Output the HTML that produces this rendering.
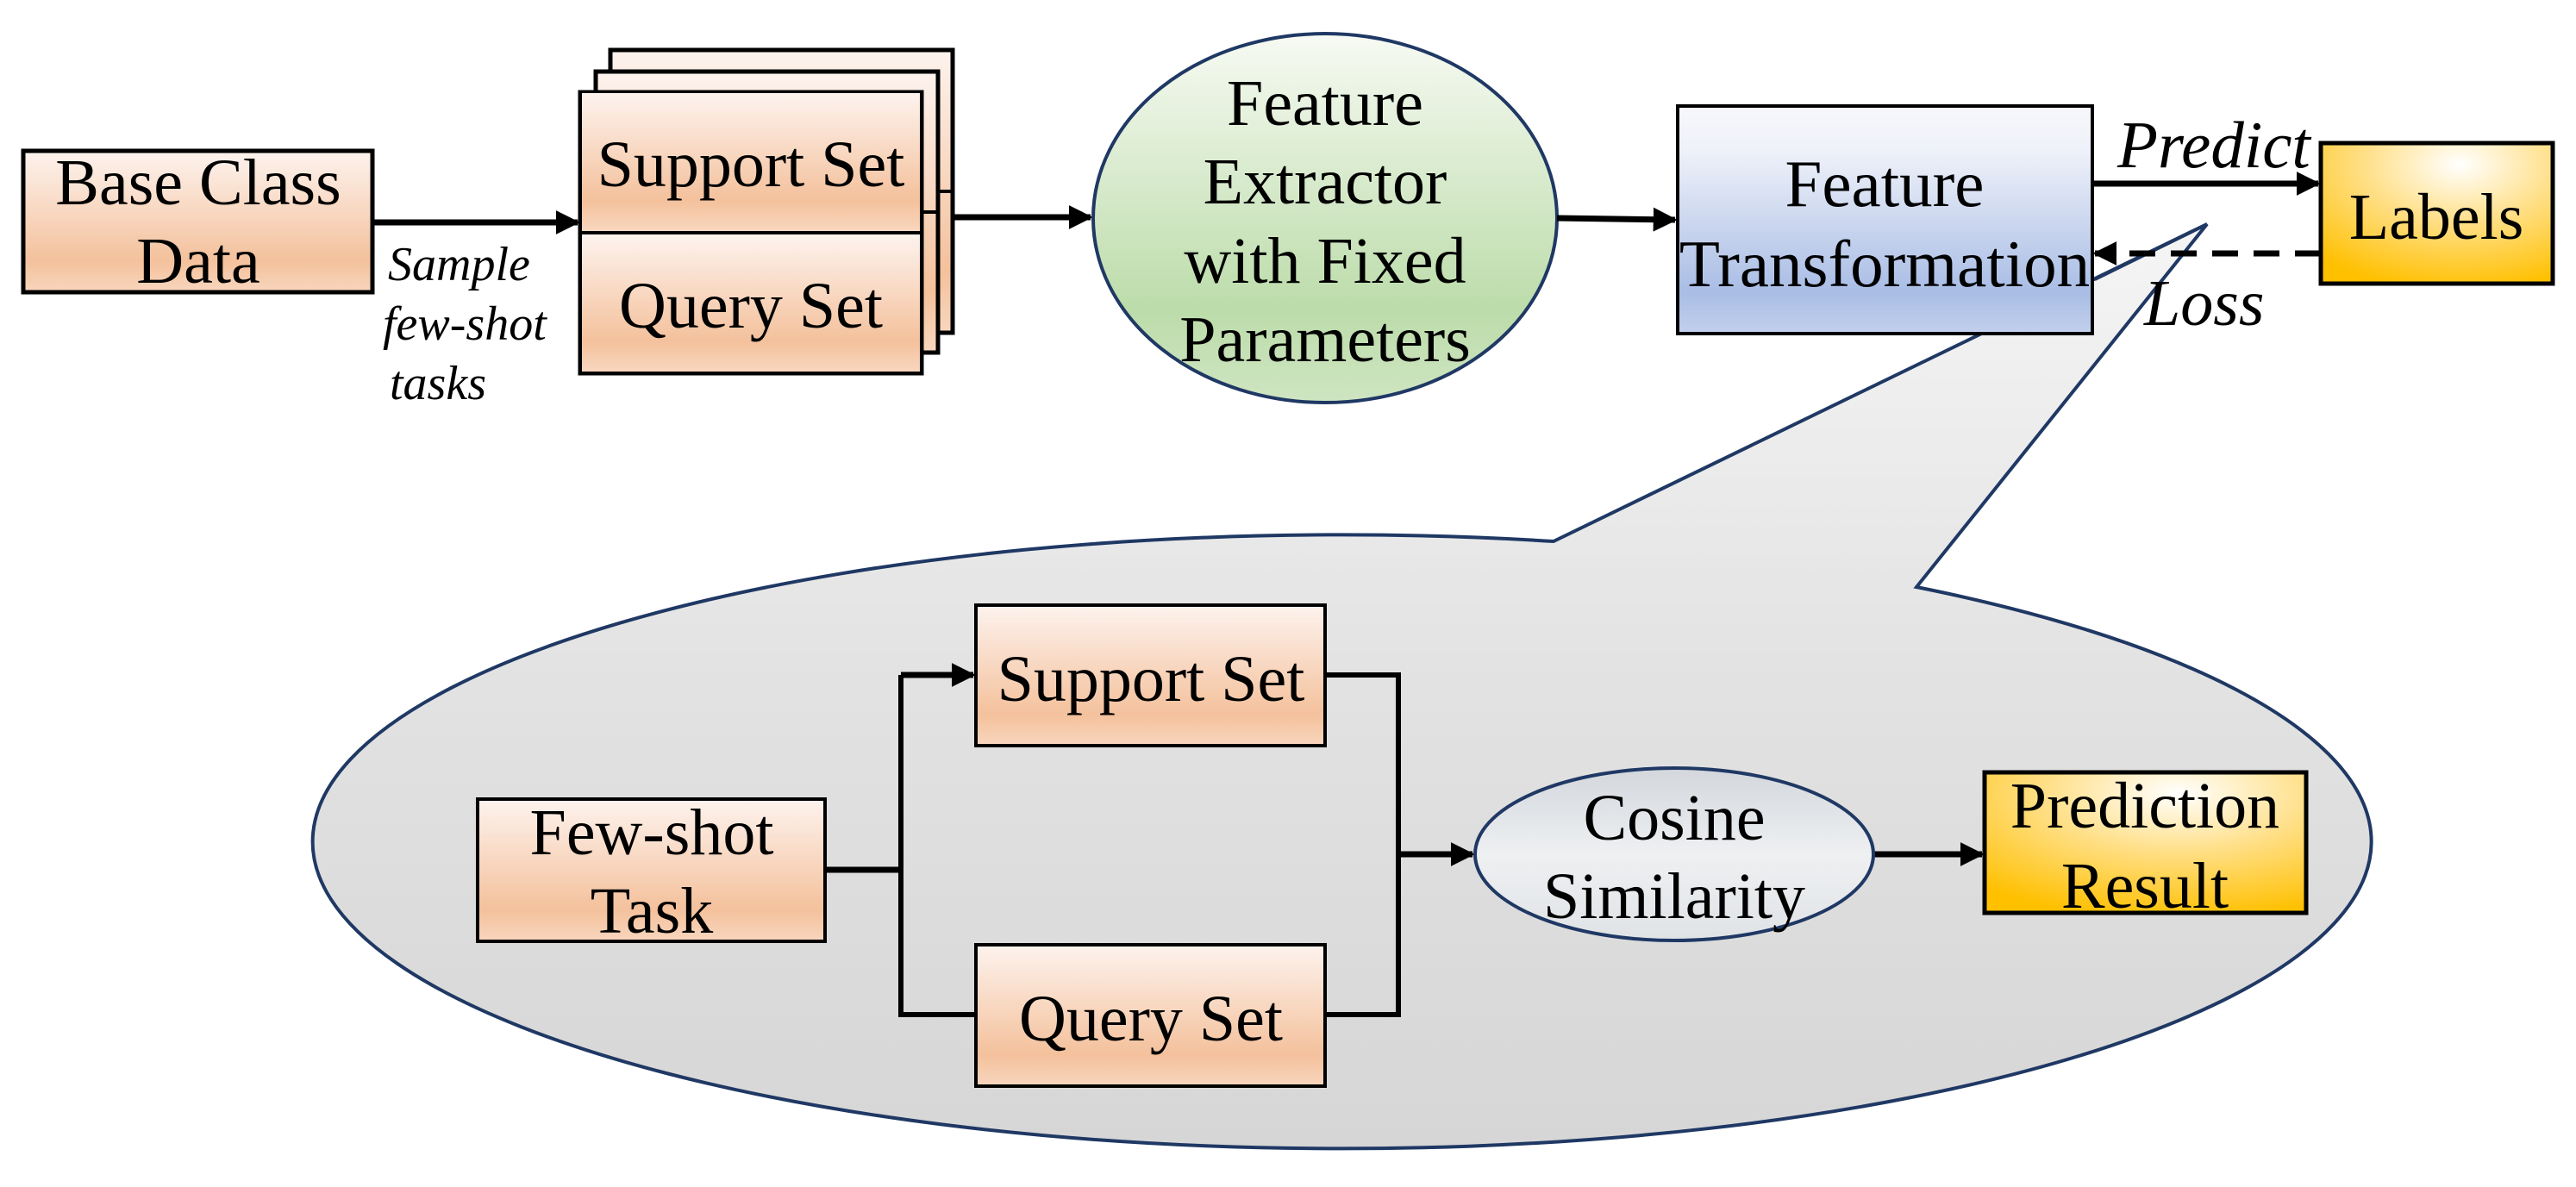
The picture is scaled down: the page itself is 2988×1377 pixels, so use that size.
<!DOCTYPE html>
<html><head><meta charset="utf-8"><style>html,body{margin:0;padding:0;background:#fff}svg{display:block}</style></head>
<body>
<svg width="2988" height="1377" viewBox="0 0 2988 1377" xmlns="http://www.w3.org/2000/svg" font-family="'Liberation Serif', serif">
<defs>
<linearGradient id="org" x1="0" y1="0" x2="0" y2="1">
<stop offset="0" stop-color="#fdf3ee"/><stop offset="0.78" stop-color="#f4c19c"/><stop offset="1" stop-color="#f8d6be"/></linearGradient>
<linearGradient id="blu" x1="0" y1="0" x2="0" y2="1">
<stop offset="0" stop-color="#f7f8fc"/><stop offset="0.2" stop-color="#eef1f9"/><stop offset="0.82" stop-color="#a9bde5"/><stop offset="1" stop-color="#c2d0ec"/></linearGradient>
<linearGradient id="grn" x1="0" y1="0" x2="0" y2="1">
<stop offset="0" stop-color="#f7faf3"/><stop offset="0.75" stop-color="#bcdcaa"/><stop offset="1" stop-color="#cfe5c2"/></linearGradient>
<radialGradient id="yel" cx="0.6" cy="0.15" r="0.9">
<stop offset="0" stop-color="#ffffff"/><stop offset="0.45" stop-color="#ffe08a"/><stop offset="1" stop-color="#ffc000"/></radialGradient>
<linearGradient id="gry" x1="0" y1="0" x2="0" y2="1">
<stop offset="0" stop-color="#f5f5f5"/><stop offset="0.5" stop-color="#e2e2e2"/><stop offset="1" stop-color="#d6d6d6"/></linearGradient>
<linearGradient id="cos" x1="0" y1="0" x2="0" y2="1">
<stop offset="0" stop-color="#d3d7dc"/><stop offset="0.5" stop-color="#eef0f2"/><stop offset="1" stop-color="#e0e3e6"/></linearGradient>
<marker id="ah" markerWidth="4" markerHeight="4" refX="3.6" refY="2" orient="auto" markerUnits="strokeWidth">
<path d="M0,0 L4,2 L0,4 z" fill="#000"/></marker>
</defs>

<!-- callout -->
<path d="M1802,628 L2560,260 L2223,681 A1194,356 0 1,1 1802,628 Z" fill="url(#gry)" stroke="#1f3864" stroke-width="4"/>
<path d="M2430,324 L2560,260 L2300,387" fill="#f2f2f2" stroke="#1f3864" stroke-width="4"/>

<!-- Base class data -->
<rect x="27" y="175" width="405" height="164" fill="url(#org)" stroke="#000" stroke-width="5"/>
<text x="230" y="237" font-size="76" text-anchor="middle">Base Class</text>
<text x="230" y="328" font-size="76" text-anchor="middle">Data</text>
<line x1="432" y1="258" x2="670" y2="258" stroke="#000" stroke-width="7" marker-end="url(#ah)"/>
<g font-size="56" font-style="italic">
<text x="450" y="325">Sample</text>
<text x="444" y="394">few-shot</text>
<text x="452" y="463">tasks</text>
</g>

<!-- stacked sets -->
<rect x="708" y="58" width="397" height="328" fill="url(#org)" stroke="#000" stroke-width="5"/>
<line x1="1069" y1="222" x2="1105" y2="222" stroke="#000" stroke-width="4"/>
<rect x="691" y="83" width="397" height="326" fill="url(#org)" stroke="#000" stroke-width="5"/>
<line x1="1069" y1="246" x2="1088" y2="246" stroke="#000" stroke-width="4"/>
<rect x="673" y="107" width="396" height="326" fill="url(#org)" stroke="#000" stroke-width="5"/>
<rect x="675" y="108" width="392" height="160" fill="url(#org)"/>
<rect x="675" y="272" width="392" height="159" fill="url(#org)"/>
<line x1="673" y1="270" x2="1069" y2="270" stroke="#000" stroke-width="4"/>
<text x="871" y="216" font-size="76" text-anchor="middle">Support Set</text>
<text x="871" y="380" font-size="76" text-anchor="middle">Query Set</text>
<line x1="1105" y1="252" x2="1265" y2="252" stroke="#000" stroke-width="7" marker-end="url(#ah)"/>

<!-- feature extractor -->
<ellipse cx="1537" cy="253" rx="269" ry="214" fill="url(#grn)" stroke="#1f3864" stroke-width="4"/>
<g font-size="76" text-anchor="middle">
<text x="1537" y="145">Feature</text>
<text x="1537" y="236">Extractor</text>
<text x="1537" y="328">with Fixed</text>
<text x="1537" y="419">Parameters</text>
</g>
<line x1="1806" y1="253" x2="1943" y2="255" stroke="#000" stroke-width="7" marker-end="url(#ah)"/>

<!-- feature transformation -->
<rect x="1946" y="123" width="481" height="264" fill="url(#blu)" stroke="#000" stroke-width="4"/>
<text x="2186" y="239" font-size="77" text-anchor="middle">Feature</text>
<text x="2186" y="332" font-size="77" text-anchor="middle">Transformation</text>

<!-- labels -->
<rect x="2692" y="166" width="269" height="163" fill="url(#yel)" stroke="#000" stroke-width="5"/>
<text x="2826" y="277" font-size="76" text-anchor="middle">Labels</text>
<line x1="2427" y1="213" x2="2689" y2="213" stroke="#000" stroke-width="7" marker-end="url(#ah)"/>
<line x1="2692" y1="294" x2="2430" y2="294" stroke="#000" stroke-width="7" stroke-dasharray="30,18" marker-end="url(#ah)"/>
<text x="2456" y="194" font-size="77" font-style="italic">Predict</text>
<text x="2487" y="377" font-size="76" font-style="italic">Loss</text>

<!-- inner -->
<rect x="554" y="927" width="403" height="165" fill="url(#org)" stroke="#000" stroke-width="4"/>
<text x="756" y="991" font-size="76" text-anchor="middle">Few-shot</text>
<text x="756" y="1082" font-size="76" text-anchor="middle">Task</text>
<rect x="1132" y="702" width="405" height="163" fill="url(#org)" stroke="#000" stroke-width="4"/>
<text x="1335" y="813" font-size="76" text-anchor="middle">Support Set</text>
<rect x="1132" y="1096" width="405" height="164" fill="url(#org)" stroke="#000" stroke-width="4"/>
<text x="1335" y="1207" font-size="76" text-anchor="middle">Query Set</text>

<g stroke="#000" stroke-width="7" fill="none">
<path d="M957,1009 L1045,1009"/>
<path d="M1045,783 L1045,1177 L1132,1177" stroke-width="6"/>
<path d="M1045,783 L1129,783" marker-end="url(#ah)"/>
<path d="M1537,783 L1622,783 L1622,1177 L1537,1177" stroke-width="6"/>
<path d="M1622,991 L1708,991" marker-end="url(#ah)"/>
<path d="M2174,991 L2299,991" marker-end="url(#ah)"/>
</g>

<ellipse cx="1942" cy="991" rx="231" ry="100" fill="url(#cos)" stroke="#1f3864" stroke-width="4"/>
<text x="1942" y="974" font-size="76" text-anchor="middle">Cosine</text>
<text x="1942" y="1065" font-size="76" text-anchor="middle">Similarity</text>

<rect x="2302" y="896" width="373" height="163" fill="url(#yel)" stroke="#000" stroke-width="5"/>
<text x="2488" y="960" font-size="76" text-anchor="middle">Prediction</text>
<text x="2488" y="1053" font-size="76" text-anchor="middle">Result</text>
</svg>
</body></html>
